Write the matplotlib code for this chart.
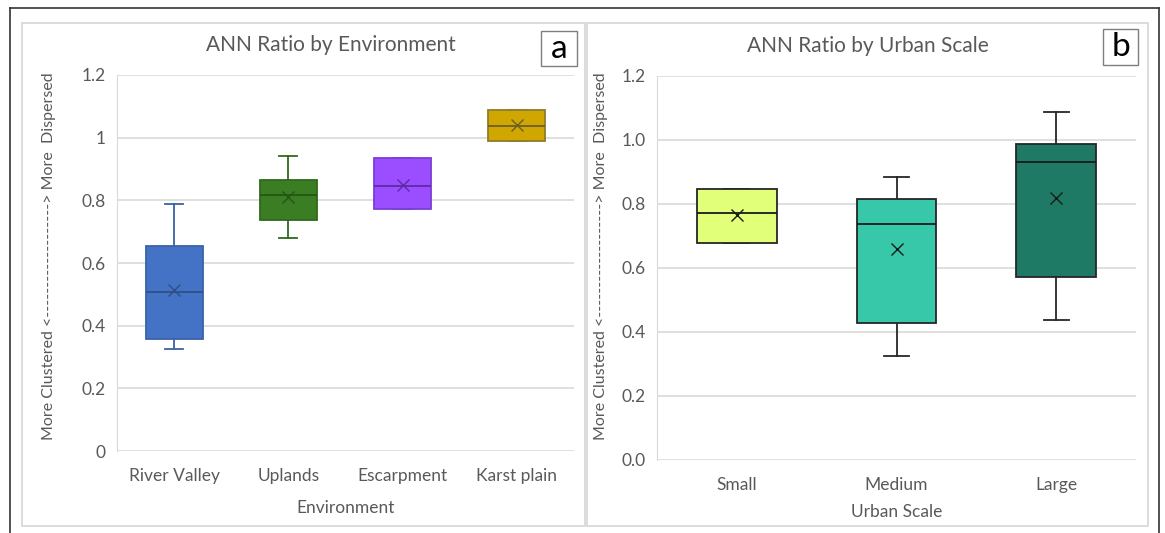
import matplotlib.pyplot as plt
from matplotlib.patches import Rectangle
from matplotlib.lines import Line2D

plt.rcParams['font.family'] = ['Lato', 'DejaVu Sans']

# panel a: ANN ratio by environment
env_names = ["River Valley", "Uplands", "Escarpment", "Karst plain"]
env_whislo = [0.325, 0.681, 0.772, 0.988]
env_q1 = [0.357, 0.738, 0.772, 0.988]
env_med = [0.508, 0.818, 0.847, 1.038]
env_q3 = [0.654, 0.866, 0.934, 1.088]
env_whishi = [0.788, 0.942, 0.934, 1.088]
env_mean = [0.514, 0.812, 0.849, 1.039]
env_fill = ["#4472C4", "#3B7D23", "#9B4EFF", "#D0A600"]
env_edge = ["#3A62A8", "#2E6A1A", "#7E3DD6", "#8F7B2C"]
env_line = ["#2F4F86", "#245714", "#5E2AA6", "#6E5E28"]

# panel b: ANN ratio by urban scale
urb_names = ["Small", "Medium", "Large"]
urb_whislo = [0.679, 0.325, 0.439]
urb_q1 = [0.679, 0.428, 0.571]
urb_med = [0.771, 0.737, 0.932]
urb_q3 = [0.846, 0.816, 0.988]
urb_whishi = [0.846, 0.884, 1.088]
urb_mean = [0.767, 0.660, 0.819]
urb_fill = ["#E1FF78", "#36C8A9", "#1F7A65"]

ylab = "More Clustered <" + "-" * 19 + "> More  Dispersed"
txt = "#595959"
W, H = 1165, 533

fig = plt.figure(figsize=(W / 100, H / 100), dpi=100)


def px(x0, y0, x1, y1):
    return [x0 / W, 1 - y1 / H, (x1 - x0) / W, (y1 - y0) / H]


# outer border and panel frames
fig.add_artist(Line2D([10 / W, 10 / W], [0, 1 - 8 / H], color="#333333", lw=1.2))
fig.add_artist(Line2D([10 / W, 1159 / W], [1 - 8 / H, 1 - 8 / H], color="#333333", lw=1.2))
fig.add_artist(Line2D([1159 / W, 1159 / W], [0, 1 - 8 / H], color="#333333", lw=1.2))
for x0, x1 in [(22, 585), (587, 1148)]:
    fig.add_artist(Rectangle((x0 / W, 1 - 526 / H), (x1 - x0) / W, (526 - 23) / H,
                             transform=fig.transFigure, fill=False, ec="#D9D9D9", lw=1.3))


def draw(ax, names, lo, q1, med, q3, hi, mean, fills, edges, lines, ticks, tickfmt):
    stats = []
    for i in range(len(names)):
        stats.append(dict(whislo=lo[i], q1=q1[i], med=med[i], q3=q3[i], whishi=hi[i],
                          mean=mean[i], fliers=[]))
    bp = ax.bxp(stats, positions=range(len(names)), widths=0.5, patch_artist=True,
                showmeans=True, showcaps=True, manage_ticks=False)
    for i in range(len(names)):
        bp['boxes'][i].set(facecolor=fills[i], edgecolor=edges[i], lw=1.3)
        bp['medians'][i].set(color=lines[i], lw=1.3)
        bp['means'][i].set(marker="x", markeredgecolor=lines[i], markersize=8, markeredgewidth=1.0)
        for j in (2 * i, 2 * i + 1):
            bp['whiskers'][j].set(color=edges[i], lw=1.3)
            bp['caps'][j].set(color=edges[i], lw=1.3)
            bp['caps'][j].set_xdata([i - 0.078, i + 0.078])
        bp['boxes'][i].set_zorder(3)
        bp['medians'][i].set_zorder(4)
        bp['means'][i].set_zorder(5)
    ax.set_xlim(-0.5, len(names) - 0.5)
    ax.set_ylim(0, 1.2)
    ax.set_yticks(ticks)
    ax.set_yticklabels([tickfmt(t) for t in ticks])
    ax.set_xticks(range(len(names)))
    ax.set_xticklabels(names)
    ax.grid(axis="y", color="#D9D9D9", lw=1.2)
    ax.set_axisbelow(True)
    for s in ["top", "right", "bottom"]:
        ax.spines[s].set_visible(False)
    ax.spines["left"].set_color("#D9D9D9")
    ax.tick_params(length=0, colors=txt, labelsize=12.5, pad=12)
    ax.tick_params(axis="y", pad=8)


ticks = [0, 0.2, 0.4, 0.6, 0.8, 1.0, 1.2]

ax1 = fig.add_axes(px(117, 75, 574, 451))
draw(ax1, env_names, env_whislo, env_q1, env_med, env_q3, env_whishi, env_mean,
     env_fill, env_edge, env_line, ticks, lambda t: f"{t:g}")
ax1.set_xlabel("Environment", color=txt, fontsize=12.5, labelpad=12)
ax1.set_ylabel(ylab, color=txt, fontsize=11.5)
ax1.yaxis.set_label_coords(-0.134, 0.519)
fig.text(331 / W, 1 - 45 / H, "ANN Ratio by Environment", color=txt, fontsize=15,
         ha="center", va="center")

ax2 = fig.add_axes(px(657, 76, 1136, 460))
draw(ax2, urb_names, urb_whislo, urb_q1, urb_med, urb_q3, urb_whishi, urb_mean,
     urb_fill, ["#262626"] * 3, ["#1A1A1A"] * 3, ticks, lambda t: f"{t:.1f}")
ax2.set_xlabel("Urban Scale", color=txt, fontsize=12.5, labelpad=8)
ax2.set_ylabel(ylab, color=txt, fontsize=11.5)
ax2.yaxis.set_label_coords(-0.102, 0.531)
fig.text(868 / W, 1 - 46 / H, "ANN Ratio by Urban Scale", color=txt, fontsize=15,
         ha="center", va="center")

# panel letters
for x0, y0, x1, y1, letter in [(541, 31, 577, 66, "a"), (1103, 29, 1138, 65, "b")]:
    fig.add_artist(Rectangle((x0 / W, 1 - y1 / H), (x1 - x0) / W, (y1 - y0) / H,
                             transform=fig.transFigure, fc="white", ec="#7F7F7F", lw=1.0))
    fig.text((x0 + x1) / 2 / W, 1 - (y0 + y1) / 2 / H, letter, ha="center", va="center",
             fontsize=24, color="black")

fig.savefig("out.png", dpi=100)
